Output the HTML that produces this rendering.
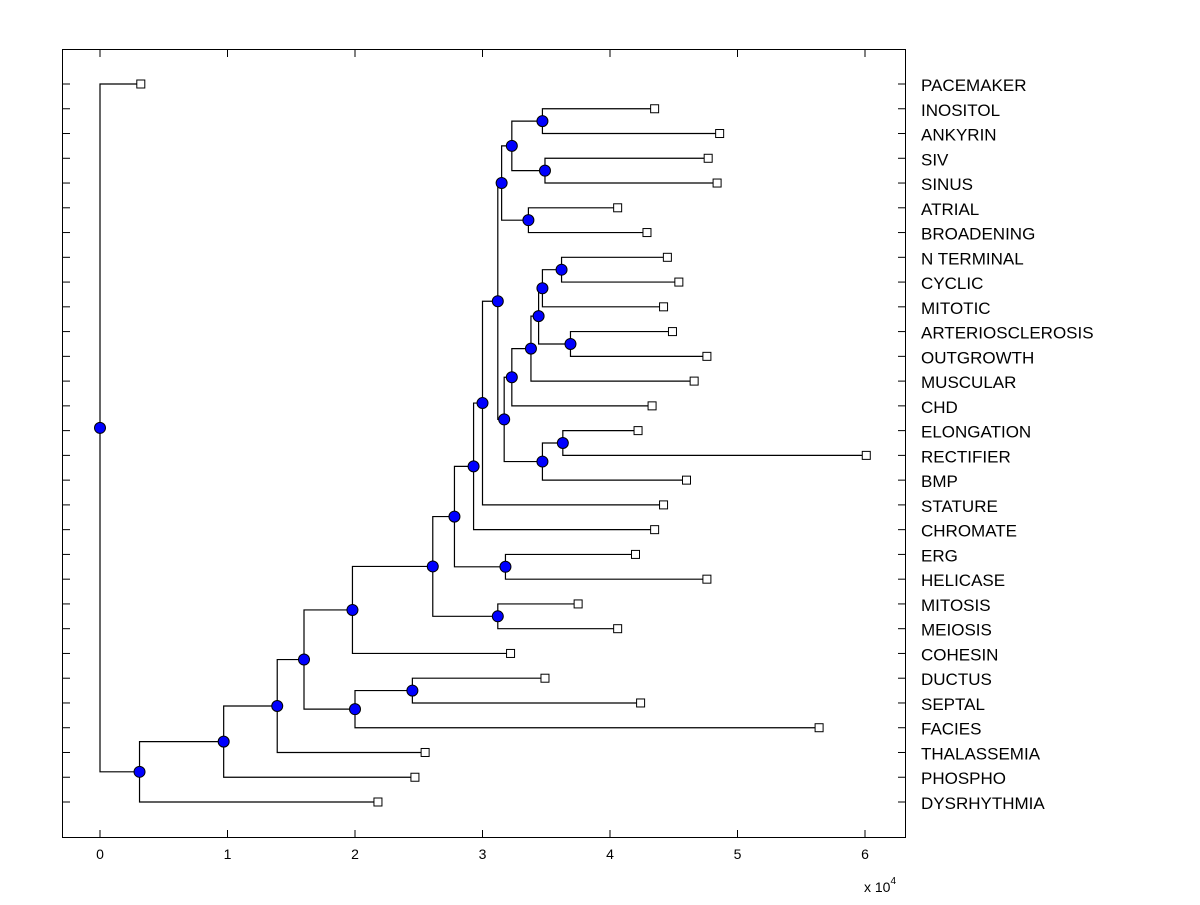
<!DOCTYPE html>
<html><head><meta charset="utf-8"><style>
body{margin:0;background:#fff;}
svg text{font-family:"Liberation Sans",Arial,sans-serif;fill:#000;}
</style></head><body>
<svg id="chart" width="1200" height="900" xmlns="http://www.w3.org/2000/svg">
<rect x="0" y="0" width="1200" height="900" fill="#fff"/>
<g id="plot"></g>
<rect x="62.5" y="49.5" width="843" height="788" fill="none" stroke="#000" stroke-width="1"/>
<text x="864" y="892" font-size="14">x 10<tspan dy="-8" font-size="10">4</tspan></text>
</svg>
<script>
const leafNames = ["PACEMAKER","INOSITOL","ANKYRIN","SIV","SINUS","ATRIAL","BROADENING","N TERMINAL","CYCLIC","MITOTIC","ARTERIOSCLEROSIS","OUTGROWTH","MUSCULAR","CHD","ELONGATION","RECTIFIER","BMP","STATURE","CHROMATE","ERG","HELICASE","MITOSIS","MEIOSIS","COHESIN","DUCTUS","SEPTAL","FACIES","THALASSEMIA","PHOSPHO","DYSRHYTHMIA"];
const leafValues = [0.32,4.35,4.86,4.77,4.84,4.06,4.29,4.45,4.54,4.42,4.49,4.76,4.66,4.33,4.22,6.01,4.60,4.42,4.35,4.20,4.76,3.75,4.06,3.22,3.49,4.24,5.64,2.55,2.47,2.18];
const nodeLeft  = ["L1","L3","N0","L5","N2","L7","N5","L10","N6","N8","N9","L14","N11","N10","N4","N14","N15","L19","N16","L21","N18","N20","L24","N22","N21","N24","N25","N26","L0"];
const nodeRight = ["L2","L4","N1","L6","N3","L8","L9","L11","N7","L12","L13","L15","L16","N12","N13","L17","L18","L20","N17","L22","N19","L23","L25","L26","N23","L27","L28","L29","N27"];
const nodeValues = [3.47,3.49,3.23,3.36,3.15,3.62,3.47,3.69,3.44,3.38,3.23,3.63,3.47,3.17,3.12,3.00,2.93,3.18,2.78,3.12,2.61,1.98,2.45,2.00,1.60,1.39,0.97,0.31,0.00];
const xTicks = [0,1,2,3,4,5,6];

const NS="http://www.w3.org/2000/svg";
const plot=document.getElementById('plot');
const svg=document.getElementById('chart');
const X0=100, XS=127.5, Y0=84, YS=(802-84)/29;
const xs=v=>X0+v*XS, ys=i=>Y0+i*YS;
function mk(tag,attrs,parent){const e=document.createElementNS(NS,tag);for(const k in attrs)e.setAttribute(k,attrs[k]);(parent||plot).appendChild(e);return e;}

const pos={};
leafNames.forEach((n,i)=>{pos["L"+i]={x:xs(leafValues[i]),y:ys(i)};});
nodeValues.forEach((v,j)=>{const a=pos[nodeLeft[j]],b=pos[nodeRight[j]];pos["N"+j]={x:xs(v),y:(a.y+b.y)/2};});

nodeValues.forEach((v,j)=>{
  const p=pos["N"+j],a=pos[nodeLeft[j]],b=pos[nodeRight[j]];
  const pl=mk('path',{d:`M${a.x},${a.y}H${p.x}V${b.y}H${b.x}`,fill:'none',stroke:'#000','stroke-width':1.2});
  
  
});
leafNames.forEach((n,i)=>{
  const p=pos["L"+i];
  const r=mk('rect',{x:p.x-4,y:p.y-4,width:8,height:8,fill:'#fff',stroke:'#000','stroke-width':1});
  
  
  const t=mk('text',{x:921,y:p.y+7,'font-size':17},svg);
  t.textContent=n;
  
  
  const tl=mk('line',{x1:62,x2:70,y1:p.y,y2:p.y,stroke:'#000'},svg);
  
  
  const tr=mk('line',{x1:898,x2:906,y1:p.y,y2:p.y,stroke:'#000'},svg);
  
  
});
nodeValues.forEach((v,j)=>{
  const p=pos["N"+j];
  const c=mk('circle',{cx:p.x,cy:p.y,r:5.5,fill:'#0000ff',stroke:'#000','stroke-width':1});
  
  
});
xTicks.forEach(t=>{
  const x=xs(t);
  const a=mk('line',{x1:x,x2:x,y1:830,y2:838,stroke:'#000'},svg);
  
  
  const b=mk('line',{x1:x,x2:x,y1:49,y2:57,stroke:'#000'},svg);
  
  
  const l=mk('text',{x:x,y:859,'font-size':14,'text-anchor':'middle'},svg);
  l.textContent=t;
  
  
});
</script>
</body></html>
